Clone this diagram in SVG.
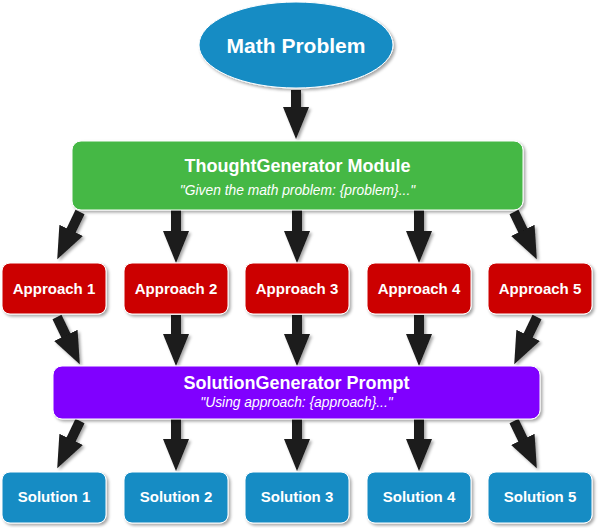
<svg xmlns="http://www.w3.org/2000/svg" width="598" height="528" viewBox="0 0 598 528">
<defs>
<filter id="sh" x="-20%" y="-20%" width="140%" height="150%">
<feDropShadow dx="2" dy="2" stdDeviation="1.5" flood-color="#000" flood-opacity="0.35"/>
</filter>
<marker id="ah" markerUnits="userSpaceOnUse" markerWidth="34" markerHeight="26" refX="1" refY="13" orient="auto">
<path d="M0,0 L32,13 L0,26 z" fill="#1a1a1a"/>
</marker>
<style>
.box{stroke:#ffffff;stroke-width:1;filter:url(#sh)}
.t{font-family:"Liberation Sans",Arial,sans-serif;font-weight:bold;fill:#fff;text-anchor:middle}
.s{font-family:"Liberation Sans",Arial,sans-serif;font-style:italic;fill:#fff;text-anchor:middle;font-size:13.8px}
.a{stroke:#1a1a1a;stroke-width:10;fill:none;marker-end:url(#ah)}
.appr{fill:#cc0000}
.sol{fill:#168cc4}
</style>
</defs>
<g id="connectors" filter="url(#sh)">
<line class="a" x1="296" y1="90" x2="296" y2="108"/>
<line class="a" x1="80" y1="212" x2="70.7" y2="231.3"/>
<line class="a" x1="176" y1="210" x2="176" y2="232"/>
<line class="a" x1="297" y1="210" x2="297" y2="232"/>
<line class="a" x1="419" y1="210" x2="419" y2="232"/>
<line class="a" x1="514" y1="212" x2="523.3" y2="231.3"/>
<line class="a" x1="57" y1="317" x2="66.3" y2="336.3"/>
<line class="a" x1="176" y1="315" x2="176" y2="335"/>
<line class="a" x1="297" y1="315" x2="297" y2="335"/>
<line class="a" x1="419" y1="315" x2="419" y2="335"/>
<line class="a" x1="537" y1="317" x2="527.7" y2="336.3"/>
<line class="a" x1="80" y1="421" x2="70.7" y2="440.3"/>
<line class="a" x1="176" y1="419" x2="176" y2="440"/>
<line class="a" x1="297" y1="419" x2="297" y2="440"/>
<line class="a" x1="419" y1="419" x2="419" y2="440"/>
<line class="a" x1="514" y1="421" x2="523.3" y2="440.3"/>
</g>
<g id="math-problem">
<ellipse class="box" cx="296" cy="45" rx="97" ry="43" fill="#168cc4"/>
<text class="t" x="296" y="53" font-size="21">Math Problem</text>
</g>
<g id="thought-generator">
<rect class="box" x="72" y="141" width="451" height="69" rx="9" fill="#44b844"/>
<text class="t" x="297.5" y="172" font-size="18">ThoughtGenerator Module</text>
<text class="s" x="297.5" y="195">"Given the math problem: {problem}..."</text>
</g>
<g id="approach-1"><rect class="box appr" x="2" y="263" width="104" height="51" rx="8"/><text class="t" x="54" y="294" font-size="15">Approach 1</text></g>
<g id="approach-2"><rect class="box appr" x="124" y="263" width="104" height="51" rx="8"/><text class="t" x="176" y="294" font-size="15">Approach 2</text></g>
<g id="approach-3"><rect class="box appr" x="245" y="263" width="104" height="51" rx="8"/><text class="t" x="297" y="294" font-size="15">Approach 3</text></g>
<g id="approach-4"><rect class="box appr" x="367" y="263" width="104" height="51" rx="8"/><text class="t" x="419" y="294" font-size="15">Approach 4</text></g>
<g id="approach-5"><rect class="box appr" x="488" y="263" width="104" height="51" rx="8"/><text class="t" x="540" y="294" font-size="15">Approach 5</text></g>
<g id="solution-generator">
<rect class="box" x="53" y="366" width="487" height="53" rx="9" fill="#8000ff"/>
<text class="t" x="296.5" y="389" font-size="18">SolutionGenerator Prompt</text>
<text class="s" x="296.5" y="407">"Using approach: {approach}..."</text>
</g>
<g id="solution-1"><rect class="box sol" x="2" y="472" width="104" height="51" rx="8"/><text class="t" x="54" y="502" font-size="15">Solution 1</text></g>
<g id="solution-2"><rect class="box sol" x="124" y="472" width="104" height="51" rx="8"/><text class="t" x="176" y="502" font-size="15">Solution 2</text></g>
<g id="solution-3"><rect class="box sol" x="245" y="472" width="104" height="51" rx="8"/><text class="t" x="297" y="502" font-size="15">Solution 3</text></g>
<g id="solution-4"><rect class="box sol" x="367" y="472" width="104" height="51" rx="8"/><text class="t" x="419" y="502" font-size="15">Solution 4</text></g>
<g id="solution-5"><rect class="box sol" x="488" y="472" width="104" height="51" rx="8"/><text class="t" x="540" y="502" font-size="15">Solution 5</text></g>
</svg>
